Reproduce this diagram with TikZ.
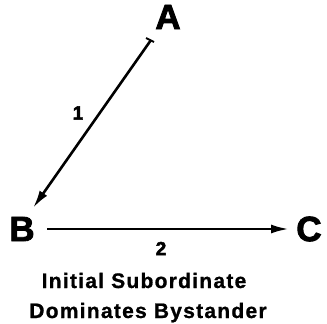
\documentclass[tikz,border=0pt]{standalone}
\usepackage{fontspec}
\setmainfont{Liberation Sans}
\newfontfamily\heavyfont[FakeBold=2.5]{Liberation Sans Bold}
\newfontfamily\capfont[LetterSpace=6,FakeBold=1]{Liberation Sans Bold}
\usetikzlibrary{arrows.meta,calc}
\begin{document}
\begin{tikzpicture}[x=1pt,y=-1pt,
  vertex/.style={font=\fontsize{35}{35}\heavyfont, inner sep=0pt},
  edgelabel/.style={font=\fontsize{19}{19}\heavyfont, inner sep=0pt},
  caption/.style={font=\fontsize{21}{21}\capfont, inner sep=0pt, anchor=base},
  conn/.style={line width=2.6pt, -{Latex[length=18pt,width=9pt]}}]
\useasboundingbox (0,0) rectangle (327,324);
\node[vertex] (A) at (168,17) {A};
\node[vertex] (B) at (22,229) {B};
\node[vertex] (C) at (309,229) {C};
\coordinate (a1) at (151,40);
\coordinate (b1) at (33,208);
\draw[conn] (a1) -- (b1);
\draw[line width=1.8pt] ($(a1)+(-5,-2)$) -- ($(a1)+(3,2)$);
\coordinate (b2) at (47,229);
\coordinate (c2) at (289,229);
\draw[conn] (b2) -- (c2);
\node[edgelabel] (l1) at (78,113) {1};
\node[edgelabel] (l2) at (161,248.5) {2};
\node[caption] (cap1) at (144,288) {Initial Subordinate};
\node[caption] (cap2) at (148,318) {Dominates Bystander};
\end{tikzpicture}
\end{document}
